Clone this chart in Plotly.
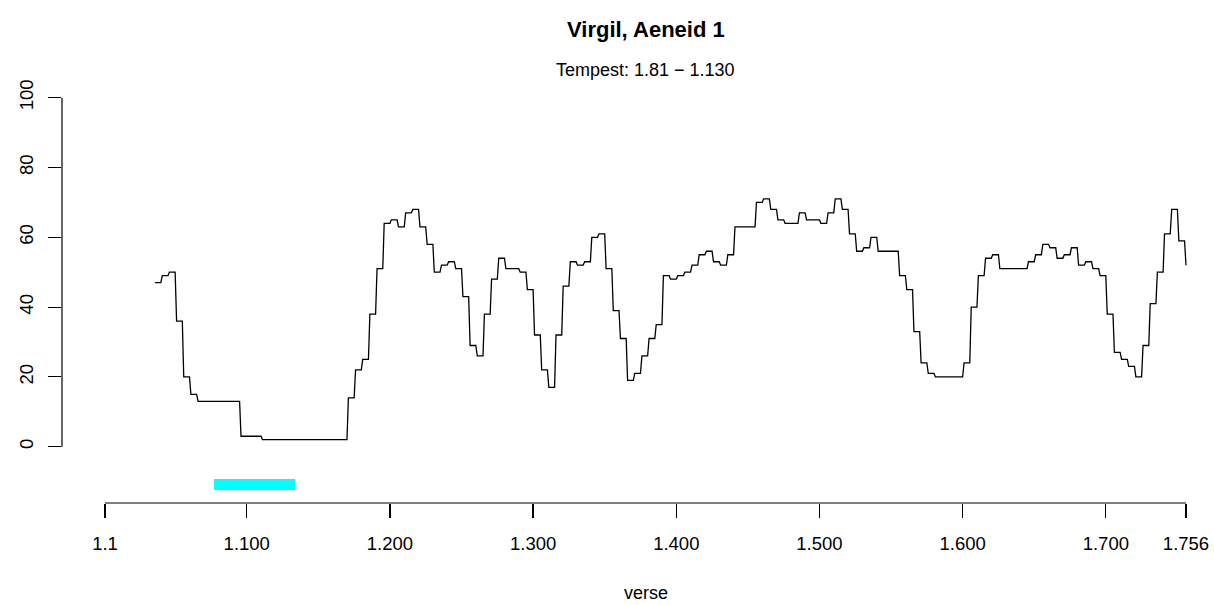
import numpy as np
import plotly.graph_objects as go

# ---- data ----
title_text = "Virgil, Aeneid 1"
subtitle_text = "Tempest: 1.81 \u2212 1.130"
x_label = "verse"

# verse at which a new value begins, and the value from that verse on
change_verses = [36, 41, 46, 51, 56, 61, 66, 96, 111, 171, 176, 181, 186, 191, 196,
                 201, 206, 211, 216, 221, 226, 231, 236, 241, 246, 251, 256, 261, 266,
                 271, 276, 281, 291, 296, 301, 306, 311, 316, 321, 326, 331, 336, 341,
                 346, 351, 356, 361, 366, 371, 376, 381, 386, 391, 396, 401, 406, 411,
                 416, 421, 426, 431, 436, 441, 456, 461, 466, 471, 476, 486, 491, 501,
                 506, 511, 516, 521, 526, 531, 536, 541, 556, 561, 566, 571, 576, 581,
                 601, 606, 611, 616, 621, 626, 646, 651, 656, 661, 666, 671, 676, 681,
                 686, 691, 696, 701, 706, 711, 716, 721, 726, 731, 736, 741, 746, 751, 756]
change_values = [47, 49, 50, 36, 20, 15, 13, 3, 2, 14, 22, 25, 38, 51, 64,
                 65, 63, 67, 68, 63, 58, 50, 52, 53, 51, 43, 29, 26, 38,
                 48, 54, 51, 50, 45, 32, 22, 17, 32, 46, 53, 52, 53, 60,
                 61, 51, 39, 31, 19, 21, 26, 31, 35, 49, 48, 49, 50, 52,
                 55, 56, 53, 52, 55, 63, 70, 71, 68, 65, 64, 67, 65, 64,
                 67, 71, 68, 61, 56, 57, 60, 56, 49, 45, 33, 24, 21, 20,
                 24, 40, 49, 54, 55, 51, 53, 55, 58, 57, 54, 55, 57, 52,
                 53, 51, 49, 38, 27, 25, 23, 20, 29, 41, 50, 61, 68, 59, 52]
last_verse = 756

tempest_start = 81
tempest_end = 130

x_tick_vals = [1, 100, 200, 300, 400, 500, 600, 700, 756]
x_tick_text = ["1.1", "1.100", "1.200", "1.300", "1.400", "1.500", "1.600", "1.700", "1.756"]
y_tick_vals = [0, 20, 40, 60, 80, 100]
y_tick_text = ["0", "20", "40", "60", "80", "100"]

# ---- build per-verse series ----
verses = np.arange(change_verses[0], last_verse + 1)
idx = np.searchsorted(change_verses, verses, side="right") - 1
scores = np.array(change_values)[idx]

FONT = "Liberation Sans, Arial, Helvetica, sans-serif"

W, H = 1214, 605
# plot area in window pixels: left 62, top 80, right 1195, bottom 503
L, T = 62, 80
B = H - 503
R = W - 1195
x_range = [-29.03, 762.29]
y_range = [-16.13, 105.07]
plot_h = H - T - B
px_per_verse = (W - L - R) / (x_range[1] - x_range[0])
px_per_unit = plot_h / (y_range[1] - y_range[0])


def ypaper(py):
    """window pixel y -> paper coordinate"""
    return (H - B - py) / plot_h


fig = go.Figure()
fig.add_trace(go.Scatter(x=verses, y=scores, mode="lines",
                         line=dict(color="black", width=1.3),
                         hoverinfo="skip", showlegend=False))

# tempest bar (thick segment with square caps)
bar_w = 11
cap = (bar_w / 2) / px_per_verse
bar_y = -10.8
half_h = (bar_w / 2) / px_per_unit
fig.add_shape(type="rect", xref="x", yref="y",
              x0=tempest_start - cap, x1=tempest_end + cap,
              y0=bar_y - half_h, y1=bar_y + half_h,
              fillcolor="#00FFFF", line=dict(width=0), layer="above")

# axis lines spanning first to last tick (R style)
fig.add_shape(type="line", xref="x", yref="paper",
              x0=x_tick_vals[0], x1=x_tick_vals[-1], y0=0, y1=0,
              line=dict(color="black", width=1.2))
fig.add_shape(type="line", xref="paper", yref="y",
              x0=0, x1=0, y0=y_tick_vals[0], y1=y_tick_vals[-1],
              line=dict(color="black", width=1.2))

mid_x = (x_tick_vals[0] + x_tick_vals[-1]) / 2

fig.update_layout(
    width=W, height=H, autosize=False,
    margin=dict(l=L, r=R, t=T, b=B, pad=0, autoexpand=False),
    paper_bgcolor="white", plot_bgcolor="white",
    font=dict(family=FONT, size=18, color="black"),
    xaxis=dict(range=x_range, showgrid=False, zeroline=False, showline=False,
               automargin=False, ticklabeloverflow="allow",
               tickmode="array", tickvals=x_tick_vals, ticktext=x_tick_text,
               ticks="outside", ticklen=14, tickwidth=1.2, tickcolor="black",
               tickfont=dict(family=FONT, size=18.5, color="black"),
               ticklabelstandoff=10),
    yaxis=dict(range=y_range, showgrid=False, zeroline=False, showline=False,
               automargin=False, ticklabeloverflow="allow",
               tickmode="array", tickvals=y_tick_vals, ticktext=y_tick_text,
               ticks="outside", ticklen=13, tickwidth=1.2, tickcolor="black",
               tickangle=-90, ticklabelstandoff=8,
               tickfont=dict(family=FONT, size=18.5, color="black")),
    annotations=[
        dict(text="<b>" + title_text + "</b>", xref="x", yref="paper",
             x=mid_x, y=ypaper(29.5),
             xanchor="center", yanchor="middle", showarrow=False,
             font=dict(family=FONT, size=22, color="black")),
        dict(text=subtitle_text, xref="x", yref="paper",
             x=mid_x, y=ypaper(70),
             xanchor="center", yanchor="middle", showarrow=False,
             font=dict(family=FONT, size=18, color="black")),
        dict(text=x_label, xref="x", yref="paper",
             x=mid_x, y=ypaper(593),
             xanchor="center", yanchor="middle", showarrow=False,
             font=dict(family=FONT, size=18, color="black")),
    ],
)

# remove the default 8px page margin so the figure fills the window exactly
fig.write_html("out.html",
               config={"displayModeBar": False, "staticPlot": True},
               post_script="document.body.style.margin='0';"
                           "document.body.style.overflow='hidden';")
